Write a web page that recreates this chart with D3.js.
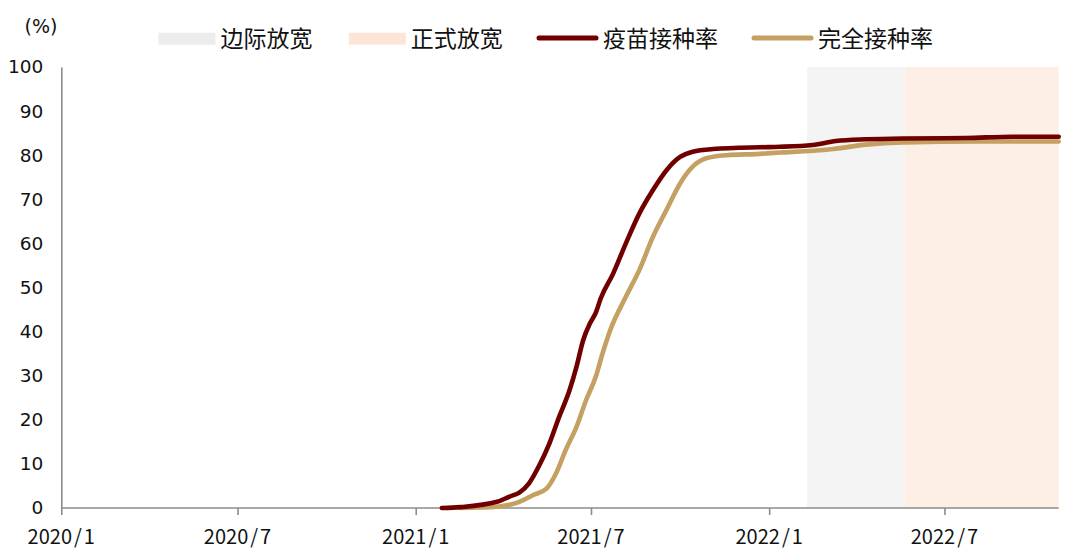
<!DOCTYPE html>
<html><head><meta charset="utf-8">
<script src="https://cdn.jsdelivr.net/npm/d3@7"></script>
<style>
html,body{margin:0;padding:0;background:#fff;}
svg{display:block;}
</style></head>
<body>
<svg id="chart" width="1080" height="552"></svg>
<script>
// ---------- data ----------
const firstDoseDates = ["2021-01-28","2021-02-16","2021-03-26","2021-04-08","2021-04-18","2021-04-28","2021-05-08","2021-05-19","2021-05-29","2021-06-09","2021-06-16","2021-06-23","2021-06-30","2021-07-06","2021-07-11","2021-07-24","2021-08-06","2021-08-20","2021-09-03","2021-09-17","2021-10-01","2021-10-14","2021-11-04","2021-12-22","2022-01-12","2022-02-15","2022-03-11","2022-04-11","2022-05-19","2022-07-23","2022-09-09","2022-10-27"];
const firstDoseValues = [0,0.2,1.4,2.6,3.5,5.6,9.4,14.6,20.6,26.8,32.0,38.1,41.9,44.3,47.5,53.2,60.0,66.8,72.1,76.6,79.6,80.8,81.4,81.8,81.9,82.3,83.2,83.6,83.8,83.9,84.2,84.2];
const fullDoseDates = ["2021-02-16","2021-03-26","2021-04-18","2021-05-02","2021-05-16","2021-05-26","2021-06-05","2021-06-16","2021-06-26","2021-07-06","2021-07-13","2021-07-21","2021-08-06","2021-08-20","2021-09-03","2021-09-17","2021-10-01","2021-10-14","2021-10-28","2021-11-18","2021-12-22","2022-01-12","2022-02-15","2022-03-08","2022-04-11","2022-05-19","2022-08-06","2022-10-27"];
const fullDoseValues = [0,0.3,1.4,2.9,4.4,7.9,13.2,18.4,24.5,29.8,35.1,40.4,47.9,54.0,61.5,67.6,73.6,77.4,79.3,80.0,80.3,80.6,81.0,81.4,82.4,82.9,83.1,83.1];
const bandNames = ["边际放宽","正式放宽"];
const bandStarts = ["2022-02-09","2022-05-21"];
const bandEnds = ["2022-05-21","2022-10-27"];
const seriesNames = ["疫苗接种率","完全接种率"];
const xTickDates = ["2020-01-01","2020-07-01","2021-01-01","2021-07-01","2022-01-01","2022-07-01"];
const xTickLabels = ["2020/1","2020/7","2021/1","2021/7","2022/1","2022/7"];
const yTickValues = [0,10,20,30,40,50,60,70,80,90,100];
const yUnit = "(%)";
const xDomain = ["2020-01-01","2022-10-27"];

// ---------- layout ----------
const parse = d3.timeParse("%Y-%m-%d");
const L = 61.3, R = 1058.7, T = 67, B = 508;
const axisColor = "#8c8c8c";
const lineColors = ["#700000","#c4a062"];
const bandColors = ["#f4f4f4","#fdefe6"];
const legendBandColors = ["#ececec","#fce5d7"];

const svg = d3.select("#chart");
const x = d3.scaleTime().domain(xDomain.map(parse)).range([L, R]);
const y = d3.scaleLinear().domain([0, 100]).range([B, T]);

// bands
const bands = bandNames.map((n,i)=>({name:n,s:parse(bandStarts[i]),e:parse(bandEnds[i]),c:bandColors[i]}));
svg.append("g").selectAll("rect").data(bands).join("rect")
  .attr("x", d=>x(d.s)).attr("width", d=>x(d.e)-x(d.s))
  .attr("y", y(100)).attr("height", y(0)-y(100))
  .attr("fill", d=>d.c);

// axes
const xAxis = d3.axisBottom(x).tickValues(xTickDates.map(parse)).tickSize(7).tickFormat("");
const gx = svg.append("g").attr("transform",`translate(0,${B})`).call(xAxis);
gx.select(".domain").attr("stroke", axisColor).attr("stroke-width",1.6).attr("d",`M${L},0H${R}`);
gx.selectAll(".tick line").attr("stroke", axisColor).attr("stroke-width",1.6);

const gxl = svg.append("g");
xTickDates.forEach((d,i)=>{
  const parts = xTickLabels[i].split("/");
  const t = gxl.append("text").attr("x", x(parse(d))).attr("y", 544)
    .attr("text-anchor","middle").attr("font-family","'Noto Sans CJK SC', sans-serif")
    .attr("font-size",20).attr("fill","#111");
  t.append("tspan").text(parts[0]);
  t.append("tspan").attr("dx",2).text("/");
  t.append("tspan").attr("dx",2).text(parts[1]);
});

const yAxis = d3.axisLeft(y).tickValues(yTickValues).tickSize(0).tickPadding(18);
const gy = svg.append("g").attr("transform",`translate(${L},0)`).call(yAxis);
gy.select(".domain").attr("stroke", axisColor).attr("stroke-width",1.6);
gy.selectAll(".tick text").attr("font-family","'DejaVu Sans', sans-serif").attr("font-size",18.5).attr("fill","#111");

svg.append("text").attr("x",41).attr("y",33).attr("text-anchor","middle")
  .attr("font-family","'DejaVu Sans', sans-serif").attr("font-size",19).attr("fill","#111").text(yUnit);

// lines
const series = [
  {name:seriesNames[0], pts:firstDoseDates.map((d,i)=>({d:parse(d),v:firstDoseValues[i]})), c:lineColors[0]},
  {name:seriesNames[1], pts:fullDoseDates.map((d,i)=>({d:parse(d),v:fullDoseValues[i]})), c:lineColors[1]}
];
const line = d3.line().x(p=>x(p.d)).y(p=>y(p.v)).curve(d3.curveMonotoneX);
svg.append("g").selectAll("path").data(series.slice().reverse()).join("path")
  .attr("d", s=>line(s.pts)).attr("fill","none").attr("stroke", s=>s.c)
  .attr("stroke-width",4.6).attr("stroke-linejoin","round").attr("stroke-linecap","round");

// legend
const lg = svg.append("g").attr("font-family","'Noto Sans CJK SC', sans-serif").attr("font-size",23).attr("fill","#111");
const bandLegX = [158.4, 348.8];
bands.forEach((b,i)=>{
  lg.append("rect").attr("x",bandLegX[i]).attr("y",32.7).attr("width",57).attr("height",12).attr("fill",legendBandColors[i]);
  lg.append("text").attr("x",bandLegX[i]+62).attr("y",39).attr("dy","0.36em").text(b.name);
});
const lineLegX = [539, 754];
series.forEach((s,i)=>{
  lg.append("line").attr("x1",lineLegX[i]).attr("x2",lineLegX[i]+57).attr("y1",38).attr("y2",38)
    .attr("stroke",s.c).attr("stroke-width",5).attr("stroke-linecap","round");
  lg.append("text").attr("x",lineLegX[i]+64).attr("y",39).attr("dy","0.36em").text(s.name);
});
</script>
</body></html>
